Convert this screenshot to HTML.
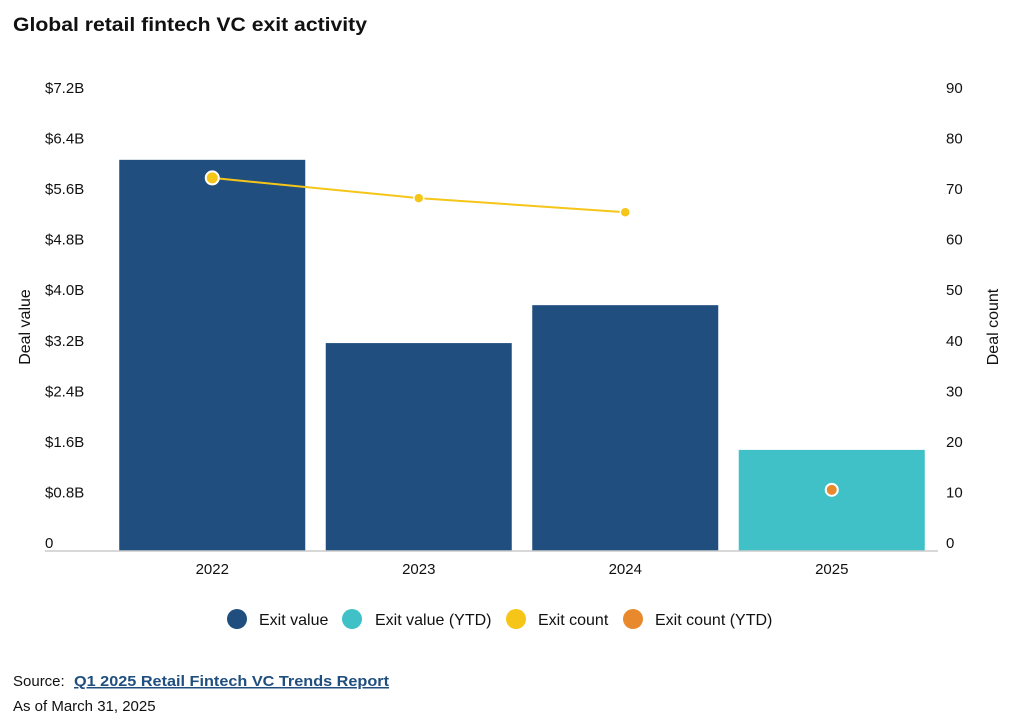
<!DOCTYPE html>
<html><head><meta charset="utf-8"><style>
body{margin:0;background:#fff;width:1014px;height:722px;overflow:hidden;font-family:"Liberation Sans",sans-serif;}
</style></head><body>
<svg width="1014" height="722" font-family="Liberation Sans, sans-serif">
<text x="13" y="31" font-size="19" font-weight="bold" fill="#111" textLength="354" lengthAdjust="spacingAndGlyphs">Global retail fintech  VC exit activity</text>
<g id="yl"></g><g id="yr"></g><g id="bars"></g><g id="xl"></g><g id="line"></g>
<line x1="45" x2="938" y1="551" y2="551" stroke="#ccc" stroke-width="1.5"/>
<text transform="translate(30,327) rotate(-90)" text-anchor="middle" font-size="16" fill="#111">Deal value</text>
<text transform="translate(998,327) rotate(-90)" text-anchor="middle" font-size="16" fill="#111">Deal count</text>
<g font-size="16" fill="#111">
<g><circle cx="237" cy="619" r="10" fill="#1f4e7f"/><text x="259" y="625">Exit value</text></g>
<g><circle cx="352" cy="619" r="10" fill="#3fc1c7"/><text x="375" y="625">Exit value (YTD)</text></g>
<g><circle cx="516" cy="619" r="10" fill="#f5c518"/><text x="538" y="625">Exit count</text></g>
<g><circle cx="633" cy="619" r="10" fill="#e8892d"/><text x="655" y="625">Exit count (YTD)</text></g>
</g>
<text x="13" y="686" font-size="15" fill="#111">Source:</text>
<text x="74" y="686" font-size="15" fill="#1f4e7f" font-weight="bold" text-decoration="underline" textLength="315" lengthAdjust="spacingAndGlyphs">Q1 2025 Retail Fintech VC  Trends Report</text>
<text x="13" y="711" font-size="15" fill="#111">As of March 31, 2025</text>
</svg>
<script>
const categories=["2022","2023","2024","2025"];
const dealValues=[6.19,3.29,3.89,1.6];
const ytdFlags=[false,false,false,true];
const exitCounts=[73.8,69.8,67,null];
const exitCountsYtd=[null,null,null,12.1];
const leftTicks=["0","$0.8B","$1.6B","$2.4B","$3.2B","$4.0B","$4.8B","$5.6B","$6.4B","$7.2B"];
const rightTicks=["0","10","20","30","40","50","60","70","80","90"];
const NS="http://www.w3.org/2000/svg";
const y0=551,y1=96,x0=109,bandW=206.5,barW=186;
const yL=v=>y0-(v/7.2)*(y0-y1);
const yR=v=>y0-(v/90)*(y0-y1);
const xC=i=>x0+bandW*(i+0.5);
function mk(t,a,p){const e=document.createElementNS(NS,t);for(const k in a)e.setAttribute(k,a[k]);p.appendChild(e);return e;}
const yl=document.getElementById('yl'),yr=document.getElementById('yr');
leftTicks.forEach((t,i)=>{const e=mk('text',{x:45,y:yL(i*0.8)-3,'font-size':15,fill:'#111'},yl);e.textContent=t;

});
rightTicks.forEach((t,i)=>{const e=mk('text',{x:946,y:yR(i*10)-3,'font-size':15,fill:'#111'},yr);e.textContent=t;

});
const bars=document.getElementById('bars'),xl=document.getElementById('xl');
categories.forEach((c,i)=>{const r=mk('rect',{x:xC(i)-barW/2,y:yL(dealValues[i]),width:barW,height:y0-yL(dealValues[i]),fill:ytdFlags[i]?'#3fc1c7':'#1f4e7f'},bars);


const t=mk('text',{x:xC(i),y:574,'text-anchor':'middle','font-size':15,fill:'#111'},xl);t.textContent=c;

});
const lg=document.getElementById('line');
let pts=[];exitCounts.forEach((v,i)=>{if(v!=null)pts.push(xC(i)+','+yR(v));});
const pl=mk('polyline',{points:pts.join(' '),fill:'none',stroke:'#f5c518','stroke-width':2},lg);


exitCounts.forEach((v,i)=>{if(v==null)return;const p=mk('circle',{cx:xC(i),cy:yR(v),r:i==0?6.5:5,fill:'#f5c518',stroke:'#fff','stroke-width':i==0?2:1.5},lg);

});
exitCountsYtd.forEach((v,i)=>{if(v==null)return;const p=mk('circle',{cx:xC(i),cy:yR(v),r:6,fill:'#e8892d',stroke:'#fff','stroke-width':2},lg);

});
</script>
</body></html>
